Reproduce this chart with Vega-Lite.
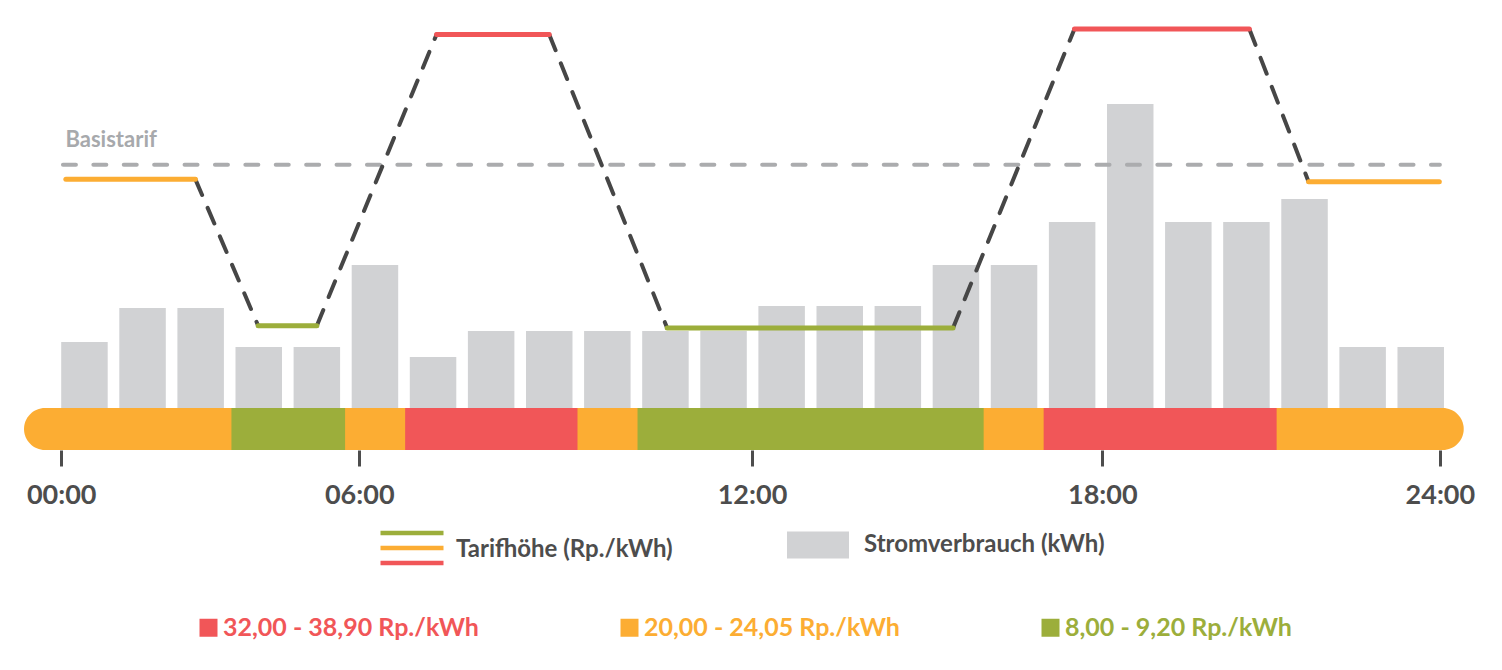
{
  "$schema": "https://vega.github.io/schema/vega-lite/v6.json",
  "padding": 0,
  "autosize": {"type": "pad"},
  "background": "white",
  "spacing": 0,
  "config": {"view": {"stroke": null}, "font": "Lato", "concat": {"spacing": 0}, "scale": {"continuousPadding": 0}},
  "datasets": {
    "verbrauch": [
      {"h": 0, "kwh": 0.66}, {"h": 1, "kwh": 1.0}, {"h": 2, "kwh": 1.0}, {"h": 3, "kwh": 0.61},
      {"h": 4, "kwh": 0.61}, {"h": 5, "kwh": 1.43}, {"h": 6, "kwh": 0.51}, {"h": 7, "kwh": 0.77},
      {"h": 8, "kwh": 0.77}, {"h": 9, "kwh": 0.77}, {"h": 10, "kwh": 0.77}, {"h": 11, "kwh": 0.77},
      {"h": 12, "kwh": 1.02}, {"h": 13, "kwh": 1.02}, {"h": 14, "kwh": 1.02}, {"h": 15, "kwh": 1.43},
      {"h": 16, "kwh": 1.43}, {"h": 17, "kwh": 1.86}, {"h": 18, "kwh": 3.04}, {"h": 19, "kwh": 1.86},
      {"h": 20, "kwh": 1.86}, {"h": 21, "kwh": 2.09}, {"h": 22, "kwh": 0.61}, {"h": 23, "kwh": 0.61}
    ],
    "tarif": [
      {"start": 0.08, "end": 2.31, "value": 23.2, "tarif": "20,00 - 24,05 Rp./kWh"},
      {"start": 3.39, "end": 4.40, "value": 8.35, "tarif": "8,00 - 9,20 Rp./kWh"},
      {"start": 6.46, "end": 8.40, "value": 37.9, "tarif": "32,00 - 38,90 Rp./kWh"},
      {"start": 10.43, "end": 15.35, "value": 8.12, "tarif": "8,00 - 9,20 Rp./kWh"},
      {"start": 17.44, "end": 20.45, "value": 38.46, "tarif": "32,00 - 38,90 Rp./kWh"},
      {"start": 21.47, "end": 23.72, "value": 22.96, "tarif": "20,00 - 24,05 Rp./kWh"}
    ],
    "basis": [
      {"start": 0.03, "end": 23.73, "value": 24.69, "label": "Basistarif"}
    ],
    "band": [
      {"start": -0.64, "end": 2.93, "tarif": "20,00 - 24,05 Rp./kWh"},
      {"start": 2.93, "end": 4.89, "tarif": "8,00 - 9,20 Rp./kWh"},
      {"start": 4.89, "end": 5.92, "tarif": "20,00 - 24,05 Rp./kWh"},
      {"start": 5.92, "end": 8.89, "tarif": "32,00 - 38,90 Rp./kWh"},
      {"start": 8.89, "end": 9.92, "tarif": "20,00 - 24,05 Rp./kWh"},
      {"start": 9.92, "end": 15.88, "tarif": "8,00 - 9,20 Rp./kWh"},
      {"start": 15.88, "end": 16.91, "tarif": "20,00 - 24,05 Rp./kWh"},
      {"start": 16.91, "end": 20.92, "tarif": "32,00 - 38,90 Rp./kWh"},
      {"start": 20.92, "end": 24.14, "tarif": "20,00 - 24,05 Rp./kWh"}
    ]
  },
  "vconcat": [
    {
      "width": 1502,
      "height": 408,
      "layer": [
        {
          "data": {"name": "verbrauch"},
          "mark": {"type": "bar", "width": 46.5, "xOffset": 23.25},
          "encoding": {
            "x": {"field": "h", "type": "quantitative", "scale": {"domain": [-1.0534, 24.799], "nice": false, "zero": false, "padding": 0}, "axis": null},
            "y": {"field": "kwh", "type": "quantitative", "scale": {"domain": [0, 4.08], "nice": false, "padding": 0}, "axis": null},
            "color": {
              "datum": "Stromverbrauch (kWh)",
              "scale": {"range": ["#D1D2D4"]},
              "legend": {
                "orient": "none", "legendX": 787, "legendY": 514, "title": null, "padding": 0,
                "symbolType": "M-1,-0.435H1V0.435H-1Z", "symbolSize": 3844, "symbolStrokeWidth": 0,
                "labelFont": "Lato", "labelFontSize": 24, "labelFontWeight": "bold", "labelColor": "#4D4D4D",
                "labelOffset": 15, "labelLimit": 400
              }
            }
          }
        },
        {
          "data": {"name": "basis"},
          "mark": {"type": "rule", "stroke": "#ABACAE", "strokeWidth": 4, "strokeDash": [13, 17.4], "strokeCap": "round"},
          "encoding": {
            "x": {"field": "start", "type": "quantitative", "scale": {"domain": [-1.0534, 24.799], "nice": false, "zero": false, "padding": 0}, "axis": null},
            "x2": {"field": "end"},
            "y": {"field": "value", "type": "quantitative", "scale": {"domain": [0, 41.4], "nice": false}, "axis": null}
          }
        },
        {
          "data": {"name": "basis"},
          "mark": {"type": "text", "align": "left", "baseline": "alphabetic", "dx": 2.5, "dy": -18, "font": "Lato", "fontSize": 22, "fontWeight": "bold", "color": "#A7A9AC"},
          "encoding": {
            "x": {"field": "start", "type": "quantitative", "scale": {"domain": [-1.0534, 24.799], "nice": false, "zero": false, "padding": 0}, "axis": null},
            "y": {"field": "value", "type": "quantitative", "scale": {"domain": [0, 41.4], "nice": false}, "axis": null},
            "text": {"field": "label"}
          }
        },
        {
          "data": {"name": "tarif"},
          "transform": [
            {"window": [{"op": "lead", "field": "start", "as": "next_start"}, {"op": "lead", "field": "value", "as": "next_value"}], "sort": [{"field": "start", "order": "ascending"}]},
            {"filter": "datum.next_start != null"}
          ],
          "mark": {"type": "rule", "stroke": "#464646", "strokeWidth": 4, "strokeDash": [17, 14], "strokeCap": "round"},
          "encoding": {
            "x": {"field": "end", "type": "quantitative", "scale": {"domain": [-1.0534, 24.799], "nice": false, "zero": false, "padding": 0}, "axis": null},
            "x2": {"field": "next_start"},
            "y": {"field": "value", "type": "quantitative", "scale": {"domain": [0, 41.4], "nice": false}, "axis": null},
            "y2": {"field": "next_value"}
          }
        },
        {
          "data": {"name": "tarif"},
          "mark": {"type": "rule", "strokeWidth": 5, "strokeCap": "round"},
          "encoding": {
            "x": {"field": "start", "type": "quantitative", "scale": {"domain": [-1.0534, 24.799], "nice": false, "zero": false, "padding": 0}, "axis": null},
            "x2": {"field": "end"},
            "y": {"field": "value", "type": "quantitative", "scale": {"domain": [0, 41.4], "nice": false}, "axis": null},
            "stroke": {
              "field": "tarif", "type": "nominal",
              "scale": {"domain": ["8,00 - 9,20 Rp./kWh", "20,00 - 24,05 Rp./kWh", "32,00 - 38,90 Rp./kWh"], "range": ["#9CAE3B", "#FCAD33", "#F15658"]},
              "legend": {
                "orient": "none", "legendX": 406, "legendY": 527, "padding": 0, "direction": "vertical",
                "title": "Tarifhöhe (Rp./kWh)", "titleOrient": "right", "titleAnchor": "middle", "titleBaseline": "middle",
                "titlePadding": 3, "titleFont": "Lato", "titleFontSize": 24, "titleFontWeight": "bold", "titleColor": "#4D4D4D", "titleLimit": 400,
                "symbolType": "M-9,0H9", "symbolSize": 49, "symbolStrokeWidth": 4.5,
                "labelExpr": "''", "labelFontSize": 1, "labelOffset": 0, "rowPadding": -8
              }
            }
          }
        }
      ],
      "resolve": {"scale": {"y": "independent"}}
    },
    {
      "width": 1502,
      "height": 42,
      "layer": [
        {
          "data": {"name": "band"},
          "transform": [{"aggregate": [{"op": "min", "field": "start", "as": "start"}, {"op": "max", "field": "end", "as": "end"}]}],
          "mark": {"type": "rect", "cornerRadius": 21, "color": "#FCAD33"},
          "encoding": {
            "x": {
              "field": "start", "type": "quantitative",
              "scale": {"domain": [-1.0534, 24.799], "nice": false, "zero": false, "padding": 0},
              "axis": {
                "values": [0, 5.13, 11.89, 17.92, 23.73],
                "labelExpr": "datum.value < 1 ? '00:00' : datum.value < 8 ? '06:00' : datum.value < 14 ? '12:00' : datum.value < 20 ? '18:00' : '24:00'",
                "domain": false, "grid": false, "ticks": true, "tickSize": 16, "tickWidth": 3, "tickColor": "#4D4D4D",
                "labelFont": "Lato", "labelFontSize": 27, "labelFontWeight": "bold", "labelColor": "#4D4D4D",
                "labelPadding": 16, "labelFlush": false, "labelOverlap": false, "labelBound": false, "title": null
              }
            },
            "x2": {"field": "end"}
          }
        },
        {
          "data": {"name": "band"},
          "transform": [{"filter": "datum.start > 0 && datum.end < 24"}],
          "mark": {"type": "rect"},
          "encoding": {
            "x": {"field": "start", "type": "quantitative", "scale": {"domain": [-1.0534, 24.799], "nice": false, "zero": false, "padding": 0}},
            "x2": {"field": "end"},
            "fill": {
              "field": "tarif", "type": "nominal",
              "scale": {"domain": ["32,00 - 38,90 Rp./kWh", "20,00 - 24,05 Rp./kWh", "8,00 - 9,20 Rp./kWh"], "range": ["#F15658", "#FCAD33", "#9CAE3B"]},
              "legend": {
                "orient": "none", "legendX": 196, "legendY": 615, "title": null, "padding": 0, "direction": "horizontal",
                "symbolType": "square", "symbolSize": 324, "symbolStrokeWidth": 0,
                "labelFont": "Lato", "labelFontSize": 25, "labelFontWeight": "bold",
                "labelColor": {"expr": "datum.value == '32,00 - 38,90 Rp./kWh' ? '#F15658' : datum.value == '20,00 - 24,05 Rp./kWh' ? '#FCAD33' : '#9CAE3B'"},
                "labelOffset": 2, "columnPadding": 138, "labelLimit": 400
              }
            }
          }
        }
      ]
    }
  ]
}
